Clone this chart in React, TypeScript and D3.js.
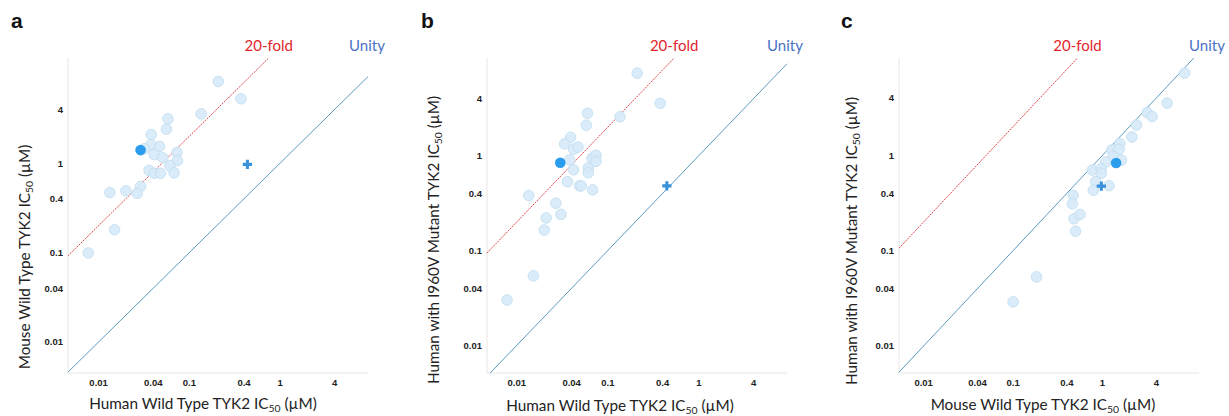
import React from "react";
import * as d3 from "d3";

// values (IC50, µM)
const tickValues = [0.01, 0.04, 0.1, 0.4, 1, 4];

const panelAPoints: [number, number][] = [
  [0.208, 8.2], [0.37, 5.25], [0.135, 3.56], [0.058, 3.13], [0.056, 2.4], [0.038, 2.09],
  [0.038, 1.62], [0.032, 1.45], [0.047, 1.54], [0.041, 1.25], [0.051, 1.15], [0.073, 1.32],
  [0.074, 1.07], [0.061, 0.935], [0.036, 0.83], [0.041, 0.77], [0.048, 0.77], [0.068, 0.78],
  [0.029, 0.55], [0.02, 0.49], [0.0133, 0.47], [0.0266, 0.46], [0.015, 0.18], [0.0077, 0.099],
];
const panelBPoints: [number, number][] = [
  [0.21, 7.4], [0.376, 3.56], [0.136, 2.57], [0.0597, 2.79], [0.058, 2.09], [0.039, 1.56],
  [0.0334, 1.33], [0.042, 1.17], [0.047, 1.23], [0.067, 0.94], [0.074, 1.01], [0.074, 0.87],
  [0.038, 0.9], [0.042, 0.71], [0.061, 0.74], [0.061, 0.66], [0.036, 0.53], [0.049, 0.48],
  [0.051, 0.48], [0.068, 0.435], [0.0135, 0.38], [0.0268, 0.315], [0.0305, 0.24], [0.021, 0.22],
  [0.02, 0.164], [0.0152, 0.054], [0.0078, 0.03],
];
const panelCPoints: [number, number][] = [
  [8.3, 7.3], [5.28, 3.53], [3.16, 2.81], [3.59, 2.55], [2.4, 2.08], [2.13, 1.56],
  [1.56, 1.33], [1.27, 1.14], [1.53, 1.16], [1.31, 0.98], [1.63, 0.89], [1.09, 0.85],
  [0.77, 0.7], [0.96, 0.72], [0.97, 0.65], [0.84, 0.53], [0.79, 0.43], [1.18, 0.48],
  [0.47, 0.38], [0.46, 0.31], [0.48, 0.216], [0.56, 0.24], [0.5, 0.16], [0.183, 0.053],
  [0.1, 0.029],
];
const highlighted: [number, number][] = [[0.029, 1.4], [0.03, 0.84], [1.42, 0.83]];
const crossed: [number, number][] = [[0.436, 0.97], [0.445, 0.48], [0.97, 0.475]];
const panelLetters = ["a", "b", "c"];
const xTitles = ["Human Wild Type TYK2 IC", "Human Wild Type TYK2 IC", "Mouse Wild Type TYK2 IC"];
const yTitles = ["Mouse Wild Type TYK2 IC", "Human with I960V Mutant TYK2 IC", "Human with I960V Mutant TYK2 IC"];
const foldChange = 20;

// layout of each panel (pixels)
const layouts = [
  { left: 68, right: 368, top: 58, bottom: 373, xDom: [0.0046, 9.3], yDom: [0.0045, 15],
    letterX: 11, unityX: 367, xLabX: 203, xLabY: 409, yLabX: 30, yLabY: 257 },
  { left: 487, right: 787, top: 58, bottom: 373, xDom: [0.0047, 9.3], yDom: [0.0051, 10.7],
    letterX: 421, unityX: 785, xLabX: 620, xLabY: 411, yLabX: 439, yLabY: 240 },
  { left: 899, right: 1199, top: 58, bottom: 373, xDom: [0.0053, 12], yDom: [0.0052, 10.5],
    letterX: 841, unityX: 1207, xLabX: 1043, xLabY: 410, yLabX: 857, yLabY: 241 },
];
const allPoints = [panelAPoints, panelBPoints, panelCPoints];

const labelFont = "Lato, 'Open Sans', sans-serif";
const tickFont = "'Liberation Sans', Arial, sans-serif";
const labelSize = 15.3;

function Title({ text }: { text: string }) {
  return (
    <>
      {text}
      <tspan fontSize={labelSize * 0.68} dy={3}>50</tspan>
      <tspan dy={-3}> (µM)</tspan>
    </>
  );
}

function Panel({ i }: { i: number }) {
  const L = layouts[i];
  const x = d3.scaleLog().domain(L.xDom).range([L.left, L.right]);
  const y = d3.scaleLog().domain(L.yDom).range([L.bottom, L.top]);
  const line = d3.line<[number, number]>().x(d => x(d[0])).y(d => y(d[1]));

  const uLo = Math.max(L.xDom[0], L.yDom[0]);
  const uHi = Math.min(L.xDom[1], L.yDom[1]);
  const fLo = Math.max(L.xDom[0], L.yDom[0] / foldChange);
  const fHi = Math.min(L.xDom[1], L.yDom[1] / foldChange);
  const cross = d3.symbol().type(d3.symbolCross).size(48)();
  const [hx, hy] = highlighted[i];
  const [cx, cy] = crossed[i];

  return (
    <g>
      <text x={L.letterX} y={28} fontFamily={tickFont} fontWeight="bold" fontSize={21} fill="#111">
        {panelLetters[i]}
      </text>
      <line x1={L.left} x2={L.left} y1={L.top} y2={L.bottom} stroke="#e6e6e6" />
      <line x1={L.left} x2={L.right} y1={L.bottom} y2={L.bottom} stroke="#e6e6e6" />
      {tickValues.map(t => (
        <text key={"x" + t} x={x(t)} y={L.bottom + 13} textAnchor="middle"
          fontFamily={tickFont} fontWeight="bold" fontSize={9.5} fill="#222">{String(t)}</text>
      ))}
      {tickValues.map(t => (
        <text key={"y" + t} x={L.left - 5} y={y(t) + 3.5} textAnchor="end"
          fontFamily={tickFont} fontWeight="bold" fontSize={9.5} fill="#222">{String(t)}</text>
      ))}
      <path d={line([[uLo, uLo], [uHi, uHi]]) || ""} stroke="#5b9bc0" strokeWidth={1} fill="none" />
      <path d={line([[fLo, fLo * foldChange], [fHi, fHi * foldChange]]) || ""}
        stroke="#e0464b" strokeWidth={1} strokeDasharray="2,1" fill="none" />
      <text x={x(fHi)} y={51} textAnchor="middle" fontFamily={labelFont} fontSize={15} fill="#e3262b">20-fold</text>
      <text x={L.unityX} y={51} textAnchor="middle" fontFamily={labelFont} fontSize={15} fill="#4a73c4">Unity</text>
      {allPoints[i].map((d, k) => (
        <circle key={k} cx={x(d[0])} cy={y(d[1])} r={5.3} fill="#d6eaf8" fillOpacity={0.9}
          stroke="#bfdcef" strokeWidth={0.8} />
      ))}
      <circle cx={x(hx)} cy={y(hy)} r={5.3} fill="#2b9ded" />
      <path d={cross || ""} transform={`translate(${x(cx)},${y(cy)})`} fill="#3a92dc" />
      <text x={L.xLabX} y={L.xLabY} textAnchor="middle" fontFamily={labelFont} fontSize={labelSize} fill="#222">
        <Title text={xTitles[i]} />
      </text>
      <text transform={`translate(${L.yLabX},${L.yLabY}) rotate(-90)`} textAnchor="middle"
        fontFamily={labelFont} fontSize={labelSize} fill="#222">
        <Title text={yTitles[i]} />
      </text>
    </g>
  );
}

export default function App() {
  return (
    <svg width={1229} height={416} style={{ position: "absolute", left: 0, top: 0, background: "#fff" }}>
      {layouts.map((_, i) => <Panel key={i} i={i} />)}
    </svg>
  );
}
